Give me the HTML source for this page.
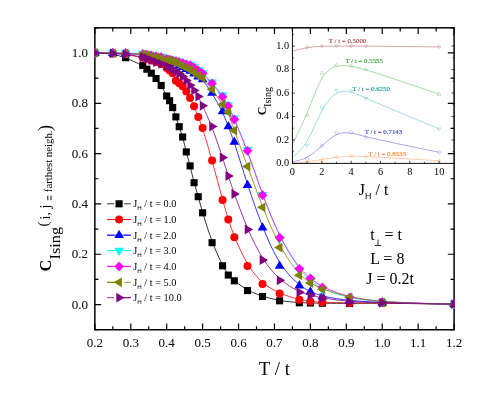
<!DOCTYPE html>
<html><head><meta charset="utf-8"><title>C_Ising vs T/t</title>
<style>html,body{margin:0;padding:0;background:#fff;}body{width:491px;height:407px;overflow:hidden;font-family:"Liberation Serif",serif;}svg{will-change:transform;}svg text{font-family:"Liberation Serif",serif;}</style>
</head><body>
<svg width="491" height="407" viewBox="0 0 491 407" style="display:block">
<rect width="491" height="407" fill="#fff"/>
<defs><clipPath id="cm"><rect x="94.1" y="27.05" width="360.75" height="303.45"/></clipPath></defs>
<rect x="94.85" y="27.8" width="359.25" height="301.95" fill="none" stroke="#000" stroke-width="1.48"/><path d="M94.85 329.75v-6.3M94.85 27.8v6.3M112.81 329.75v-3.6M112.81 27.8v3.6M130.78 329.75v-6.3M130.78 27.8v6.3M148.74 329.75v-3.6M148.74 27.8v3.6M166.70 329.75v-6.3M166.70 27.8v6.3M184.66 329.75v-3.6M184.66 27.8v3.6M202.62 329.75v-6.3M202.62 27.8v6.3M220.59 329.75v-3.6M220.59 27.8v3.6M238.55 329.75v-6.3M238.55 27.8v6.3M256.51 329.75v-3.6M256.51 27.8v3.6M274.47 329.75v-6.3M274.47 27.8v6.3M292.44 329.75v-3.6M292.44 27.8v3.6M310.40 329.75v-6.3M310.40 27.8v6.3M328.36 329.75v-3.6M328.36 27.8v3.6M346.33 329.75v-6.3M346.33 27.8v6.3M364.29 329.75v-3.6M364.29 27.8v3.6M382.25 329.75v-6.3M382.25 27.8v6.3M400.21 329.75v-3.6M400.21 27.8v3.6M418.18 329.75v-6.3M418.18 27.8v6.3M436.14 329.75v-3.6M436.14 27.8v3.6M454.10 329.75v-6.3M454.10 27.8v6.3M94.85 329.75h3.6M454.1 329.75h-3.6M94.85 304.59h6.3M454.1 304.59h-6.3M94.85 279.43h3.6M454.1 279.43h-3.6M94.85 254.26h6.3M454.1 254.26h-6.3M94.85 229.10h3.6M454.1 229.10h-3.6M94.85 203.94h6.3M454.1 203.94h-6.3M94.85 178.77h3.6M454.1 178.77h-3.6M94.85 153.61h6.3M454.1 153.61h-6.3M94.85 128.45h3.6M454.1 128.45h-3.6M94.85 103.29h6.3M454.1 103.29h-6.3M94.85 78.12h3.6M454.1 78.12h-3.6M94.85 52.96h6.3M454.1 52.96h-6.3M94.85 27.80h3.6M454.1 27.80h-3.6" stroke="#000" stroke-width="1.2" fill="none"/>
<g clip-path="url(#cm)">
<path d="M94.85 53.00C94.85 53.00 94.85 53.00 97.84 53.10C100.84 53.20 106.82 53.40 111.96 54.18C117.09 54.97 121.37 56.33 126.36 58.32C131.35 60.30 137.05 62.90 140.59 64.82C144.13 66.73 145.50 67.97 146.93 69.25C148.35 70.53 149.83 71.87 151.36 73.42C152.89 74.97 154.47 76.73 156.12 78.78C157.76 80.83 159.47 83.17 161.24 86.08C163.02 89.00 164.86 92.50 166.27 95.03C167.68 97.57 168.66 99.13 169.65 101.07C170.65 103.00 171.67 105.30 172.71 108.00C173.75 110.70 174.81 113.80 175.90 116.98C176.98 120.17 178.09 123.43 179.22 126.78C180.35 130.13 181.51 133.57 182.69 137.77C183.88 141.97 185.09 146.93 186.32 151.75C187.56 156.57 188.83 161.23 190.12 166.37C191.42 171.50 192.75 177.10 194.10 182.23C195.46 187.37 196.85 192.03 198.28 197.05C199.70 202.07 201.16 207.43 203.47 215.10C205.78 222.77 208.93 232.73 212.25 241.57C215.58 250.40 219.08 258.10 221.78 263.50C224.48 268.90 226.38 272.00 228.34 274.50C230.30 277.00 232.31 278.90 235.52 281.48C238.73 284.07 243.13 287.33 247.82 289.95C252.52 292.57 257.51 294.53 262.86 296.23C268.20 297.93 273.90 299.37 280.05 300.42C286.19 301.47 292.77 302.13 297.90 302.50C303.03 302.87 306.72 302.93 310.55 303.00C314.39 303.07 318.38 303.13 324.92 303.22C331.45 303.30 340.52 303.40 350.50 303.37C360.48 303.33 371.36 303.17 388.78 303.30C406.20 303.43 430.15 303.87 442.12 304.08C454.10 304.30 454.10 304.30 454.10 304.30" fill="none" stroke="#000000" stroke-width="0.8"/>
<rect x="91.30" y="49.45" width="7.10" height="7.10" fill="#000000"/>
<rect x="109.26" y="50.05" width="7.10" height="7.10" fill="#000000"/>
<rect x="122.09" y="54.15" width="7.10" height="7.10" fill="#000000"/>
<rect x="139.20" y="61.95" width="7.10" height="7.10" fill="#000000"/>
<rect x="143.33" y="65.65" width="7.10" height="7.10" fill="#000000"/>
<rect x="147.75" y="69.65" width="7.10" height="7.10" fill="#000000"/>
<rect x="152.51" y="74.95" width="7.10" height="7.10" fill="#000000"/>
<rect x="157.62" y="81.95" width="7.10" height="7.10" fill="#000000"/>
<rect x="163.15" y="92.45" width="7.10" height="7.10" fill="#000000"/>
<rect x="166.08" y="97.15" width="7.10" height="7.10" fill="#000000"/>
<rect x="169.14" y="104.05" width="7.10" height="7.10" fill="#000000"/>
<rect x="172.32" y="113.35" width="7.10" height="7.10" fill="#000000"/>
<rect x="175.65" y="123.15" width="7.10" height="7.10" fill="#000000"/>
<rect x="179.12" y="133.45" width="7.10" height="7.10" fill="#000000"/>
<rect x="182.75" y="148.35" width="7.10" height="7.10" fill="#000000"/>
<rect x="186.54" y="162.35" width="7.10" height="7.10" fill="#000000"/>
<rect x="190.52" y="179.15" width="7.10" height="7.10" fill="#000000"/>
<rect x="194.69" y="193.15" width="7.10" height="7.10" fill="#000000"/>
<rect x="199.07" y="209.25" width="7.10" height="7.10" fill="#000000"/>
<rect x="208.53" y="239.15" width="7.10" height="7.10" fill="#000000"/>
<rect x="219.03" y="262.25" width="7.10" height="7.10" fill="#000000"/>
<rect x="224.74" y="271.55" width="7.10" height="7.10" fill="#000000"/>
<rect x="230.77" y="277.25" width="7.10" height="7.10" fill="#000000"/>
<rect x="243.98" y="287.05" width="7.10" height="7.10" fill="#000000"/>
<rect x="258.95" y="292.95" width="7.10" height="7.10" fill="#000000"/>
<rect x="276.06" y="297.25" width="7.10" height="7.10" fill="#000000"/>
<rect x="295.80" y="299.25" width="7.10" height="7.10" fill="#000000"/>
<rect x="306.85" y="299.45" width="7.10" height="7.10" fill="#000000"/>
<rect x="318.82" y="299.65" width="7.10" height="7.10" fill="#000000"/>
<rect x="346.04" y="299.95" width="7.10" height="7.10" fill="#000000"/>
<rect x="378.70" y="299.45" width="7.10" height="7.10" fill="#000000"/>
<rect x="450.55" y="300.75" width="7.10" height="7.10" fill="#000000"/>
<path d="M94.85 53.00C94.85 53.00 94.85 53.00 97.84 53.05C100.84 53.10 106.82 53.20 111.96 53.40C117.09 53.60 121.37 53.90 126.36 54.65C131.35 55.40 137.05 56.60 140.59 57.40C144.13 58.20 145.50 58.60 146.93 59.03C148.35 59.47 149.83 59.93 151.36 60.43C152.89 60.93 154.47 61.47 156.12 62.07C157.76 62.67 159.47 63.33 161.24 64.33C163.02 65.33 164.86 66.67 166.27 67.75C167.68 68.83 168.66 69.67 169.65 70.53C170.65 71.40 171.67 72.30 172.71 74.02C173.75 75.73 174.81 78.27 175.90 79.93C176.98 81.60 178.09 82.40 179.22 83.30C180.35 84.20 181.51 85.20 182.69 86.57C183.88 87.93 185.09 89.67 186.32 91.63C187.56 93.60 188.83 95.80 190.12 98.28C191.42 100.77 192.75 103.53 194.10 106.68C195.46 109.83 196.85 113.37 198.28 116.98C199.70 120.60 201.16 124.30 203.47 131.57C205.78 138.83 208.93 149.67 212.25 161.67C215.58 173.67 219.08 186.83 221.78 196.67C224.48 206.50 226.38 213.00 228.34 219.22C230.30 225.43 232.31 231.37 235.52 239.12C238.73 246.87 243.13 256.43 247.82 264.22C252.52 272.00 257.51 278.00 262.86 282.60C268.20 287.20 273.90 290.40 280.05 293.03C286.19 295.67 292.77 297.73 297.90 299.05C303.03 300.37 306.72 300.93 310.55 301.35C314.39 301.77 318.38 302.03 324.92 302.28C331.45 302.53 340.52 302.77 350.50 302.85C360.48 302.93 371.36 302.87 388.78 303.08C406.20 303.30 430.15 303.80 442.12 304.05C454.10 304.30 454.10 304.30 454.10 304.30" fill="none" stroke="#ff0000" stroke-width="0.8"/>
<circle cx="94.85" cy="53.00" r="4" fill="#ff0000"/>
<circle cx="112.81" cy="53.30" r="4" fill="#ff0000"/>
<circle cx="125.64" cy="54.20" r="4" fill="#ff0000"/>
<circle cx="142.75" cy="57.80" r="4" fill="#ff0000"/>
<circle cx="146.88" cy="59.00" r="4" fill="#ff0000"/>
<circle cx="151.30" cy="60.40" r="4" fill="#ff0000"/>
<circle cx="156.06" cy="62.00" r="4" fill="#ff0000"/>
<circle cx="161.17" cy="64.00" r="4" fill="#ff0000"/>
<circle cx="166.70" cy="68.00" r="4" fill="#ff0000"/>
<circle cx="169.63" cy="70.50" r="4" fill="#ff0000"/>
<circle cx="172.69" cy="73.20" r="4" fill="#ff0000"/>
<circle cx="175.87" cy="80.80" r="4" fill="#ff0000"/>
<circle cx="179.20" cy="83.20" r="4" fill="#ff0000"/>
<circle cx="182.67" cy="86.20" r="4" fill="#ff0000"/>
<circle cx="186.30" cy="91.40" r="4" fill="#ff0000"/>
<circle cx="190.09" cy="98.00" r="4" fill="#ff0000"/>
<circle cx="194.07" cy="106.30" r="4" fill="#ff0000"/>
<circle cx="198.24" cy="116.90" r="4" fill="#ff0000"/>
<circle cx="202.62" cy="128.00" r="4" fill="#ff0000"/>
<circle cx="212.08" cy="160.50" r="4" fill="#ff0000"/>
<circle cx="222.58" cy="200.00" r="4" fill="#ff0000"/>
<circle cx="228.29" cy="219.50" r="4" fill="#ff0000"/>
<circle cx="234.32" cy="237.30" r="4" fill="#ff0000"/>
<circle cx="247.53" cy="266.00" r="4" fill="#ff0000"/>
<circle cx="262.50" cy="284.00" r="4" fill="#ff0000"/>
<circle cx="279.61" cy="293.60" r="4" fill="#ff0000"/>
<circle cx="299.35" cy="299.80" r="4" fill="#ff0000"/>
<circle cx="310.40" cy="301.50" r="4" fill="#ff0000"/>
<circle cx="322.38" cy="302.30" r="4" fill="#ff0000"/>
<circle cx="349.59" cy="303.00" r="4" fill="#ff0000"/>
<circle cx="382.25" cy="302.80" r="4" fill="#ff0000"/>
<circle cx="454.10" cy="304.30" r="4" fill="#ff0000"/>
<path d="M94.85 53.00C94.85 53.00 94.85 53.00 97.84 53.05C100.84 53.10 106.82 53.20 111.96 53.30C117.09 53.40 121.37 53.50 126.36 53.70C131.35 53.90 137.05 54.20 140.59 54.50C144.13 54.80 145.50 55.10 146.93 55.43C148.35 55.77 149.83 56.13 151.36 56.52C152.89 56.90 154.47 57.30 156.12 57.72C157.76 58.13 159.47 58.57 161.24 59.03C163.02 59.50 164.86 60.00 166.27 60.38C167.68 60.77 168.66 61.03 169.65 61.33C170.65 61.63 171.67 61.97 172.71 62.32C173.75 62.67 174.81 63.03 175.90 63.58C176.98 64.13 178.09 64.87 179.22 65.50C180.35 66.13 181.51 66.67 182.69 67.25C183.88 67.83 185.09 68.47 186.32 69.08C187.56 69.70 188.83 70.30 190.12 71.05C191.42 71.80 192.75 72.70 194.10 73.65C195.46 74.60 196.85 75.60 198.28 76.58C199.70 77.57 201.16 78.53 203.47 81.27C205.78 84.00 208.93 88.50 212.25 93.83C215.58 99.17 219.08 105.33 221.78 110.92C224.48 116.50 226.38 121.50 228.34 126.58C230.30 131.67 232.31 136.83 235.52 146.62C238.73 156.40 243.13 170.80 247.82 185.10C252.52 199.40 257.51 213.60 262.86 227.07C268.20 240.53 273.90 253.27 280.05 262.90C286.19 272.53 292.77 279.07 297.90 283.37C303.03 287.67 306.72 289.73 310.55 291.57C314.39 293.40 318.38 295.00 324.92 296.50C331.45 298.00 340.52 299.40 350.50 300.40C360.48 301.40 371.36 302.00 388.78 302.57C406.20 303.13 430.15 303.67 442.12 303.93C454.10 304.20 454.10 304.20 454.10 304.20" fill="none" stroke="#0000ff" stroke-width="0.8"/>
<path d="M94.85 47.50L99.75 55.80L89.95 55.80Z" fill="#0000ff"/>
<path d="M112.81 47.80L117.71 56.10L107.91 56.10Z" fill="#0000ff"/>
<path d="M125.64 48.10L130.54 56.40L120.74 56.40Z" fill="#0000ff"/>
<path d="M142.75 49.00L147.65 57.30L137.85 57.30Z" fill="#0000ff"/>
<path d="M146.88 49.90L151.78 58.20L141.98 58.20Z" fill="#0000ff"/>
<path d="M151.30 51.00L156.20 59.30L146.40 59.30Z" fill="#0000ff"/>
<path d="M156.06 52.20L160.96 60.50L151.16 60.50Z" fill="#0000ff"/>
<path d="M161.17 53.50L166.07 61.80L156.27 61.80Z" fill="#0000ff"/>
<path d="M166.70 55.00L171.60 63.30L161.80 63.30Z" fill="#0000ff"/>
<path d="M169.63 55.80L174.53 64.10L164.73 64.10Z" fill="#0000ff"/>
<path d="M172.69 56.80L177.59 65.10L167.79 65.10Z" fill="#0000ff"/>
<path d="M175.87 57.90L180.77 66.20L170.97 66.20Z" fill="#0000ff"/>
<path d="M179.20 60.10L184.10 68.40L174.30 68.40Z" fill="#0000ff"/>
<path d="M182.67 61.70L187.57 70.00L177.77 70.00Z" fill="#0000ff"/>
<path d="M186.30 63.60L191.20 71.90L181.40 71.90Z" fill="#0000ff"/>
<path d="M190.09 65.40L194.99 73.70L185.19 73.70Z" fill="#0000ff"/>
<path d="M194.07 68.10L198.97 76.40L189.17 76.40Z" fill="#0000ff"/>
<path d="M198.24 71.10L203.14 79.40L193.34 79.40Z" fill="#0000ff"/>
<path d="M202.62 74.00L207.53 82.30L197.72 82.30Z" fill="#0000ff"/>
<path d="M212.08 87.50L216.98 95.80L207.18 95.80Z" fill="#0000ff"/>
<path d="M222.58 106.00L227.48 114.30L217.68 114.30Z" fill="#0000ff"/>
<path d="M228.29 121.00L233.19 129.30L223.39 129.30Z" fill="#0000ff"/>
<path d="M234.32 136.50L239.22 144.80L229.42 144.80Z" fill="#0000ff"/>
<path d="M247.53 179.70L252.43 188.00L242.63 188.00Z" fill="#0000ff"/>
<path d="M262.50 222.30L267.40 230.60L257.60 230.60Z" fill="#0000ff"/>
<path d="M279.61 260.50L284.51 268.80L274.71 268.80Z" fill="#0000ff"/>
<path d="M299.35 280.10L304.25 288.40L294.45 288.40Z" fill="#0000ff"/>
<path d="M310.40 286.30L315.30 294.60L305.50 294.60Z" fill="#0000ff"/>
<path d="M322.38 291.10L327.27 299.40L317.48 299.40Z" fill="#0000ff"/>
<path d="M349.59 295.30L354.49 303.60L344.69 303.60Z" fill="#0000ff"/>
<path d="M382.25 297.10L387.15 305.40L377.35 305.40Z" fill="#0000ff"/>
<path d="M454.10 298.70L459.00 307.00L449.20 307.00Z" fill="#0000ff"/>
<path d="M94.85 52.30C94.85 52.30 94.85 52.30 97.84 52.33C100.84 52.37 106.82 52.43 111.96 52.50C117.09 52.57 121.37 52.63 126.36 52.82C131.35 53.00 137.05 53.30 140.59 53.53C144.13 53.77 145.50 53.93 146.93 54.13C148.35 54.33 149.83 54.57 151.36 54.82C152.89 55.07 154.47 55.33 156.12 55.62C157.76 55.90 159.47 56.20 161.24 56.65C163.02 57.10 164.86 57.70 166.27 58.12C167.68 58.53 168.66 58.77 169.65 59.00C170.65 59.23 171.67 59.47 172.71 59.72C173.75 59.97 174.81 60.23 175.90 60.53C176.98 60.83 178.09 61.17 179.22 61.50C180.35 61.83 181.51 62.17 182.69 62.53C183.88 62.90 185.09 63.30 186.32 63.63C187.56 63.97 188.83 64.23 190.12 64.78C191.42 65.33 192.75 66.17 194.10 67.08C195.46 68.00 196.85 69.00 198.28 69.97C199.70 70.93 201.16 71.87 203.47 73.93C205.78 76.00 208.93 79.20 212.25 82.95C215.58 86.70 219.08 91.00 221.78 94.77C224.48 98.53 226.38 101.77 228.34 105.60C230.30 109.43 232.31 113.87 235.52 121.33C238.73 128.80 243.13 139.30 247.82 152.03C252.52 164.77 257.51 179.73 262.86 194.47C268.20 209.20 273.90 223.70 280.05 236.25C286.19 248.80 292.77 259.40 297.90 266.37C303.03 273.33 306.72 276.67 310.55 279.92C314.39 283.17 318.38 286.33 324.92 289.42C331.45 292.50 340.52 295.50 350.50 297.65C360.48 299.80 371.36 301.10 388.78 302.05C406.20 303.00 430.15 303.60 442.12 303.90C454.10 304.20 454.10 304.20 454.10 304.20" fill="none" stroke="#00ffff" stroke-width="0.8"/>
<path d="M94.85 57.80L99.75 49.50L89.95 49.50Z" fill="#00ffff"/>
<path d="M112.81 58.00L117.71 49.70L107.91 49.70Z" fill="#00ffff"/>
<path d="M125.64 58.20L130.54 49.90L120.74 49.90Z" fill="#00ffff"/>
<path d="M142.75 59.10L147.65 50.80L137.85 50.80Z" fill="#00ffff"/>
<path d="M146.88 59.60L151.78 51.30L141.98 51.30Z" fill="#00ffff"/>
<path d="M151.30 60.30L156.20 52.00L146.40 52.00Z" fill="#00ffff"/>
<path d="M156.06 61.10L160.96 52.80L151.16 52.80Z" fill="#00ffff"/>
<path d="M161.17 62.00L166.07 53.70L156.27 53.70Z" fill="#00ffff"/>
<path d="M166.70 63.80L171.60 55.50L161.80 55.50Z" fill="#00ffff"/>
<path d="M169.63 64.50L174.53 56.20L164.73 56.20Z" fill="#00ffff"/>
<path d="M172.69 65.20L177.59 56.90L167.79 56.90Z" fill="#00ffff"/>
<path d="M175.87 66.00L180.77 57.70L170.97 57.70Z" fill="#00ffff"/>
<path d="M179.20 67.00L184.10 58.70L174.30 58.70Z" fill="#00ffff"/>
<path d="M182.67 68.00L187.57 59.70L177.77 59.70Z" fill="#00ffff"/>
<path d="M186.30 69.20L191.20 60.90L181.40 60.90Z" fill="#00ffff"/>
<path d="M190.09 70.00L194.99 61.70L185.19 61.70Z" fill="#00ffff"/>
<path d="M194.07 72.50L198.97 64.20L189.17 64.20Z" fill="#00ffff"/>
<path d="M198.24 75.50L203.14 67.20L193.34 67.20Z" fill="#00ffff"/>
<path d="M202.62 78.30L207.53 70.00L197.72 70.00Z" fill="#00ffff"/>
<path d="M212.08 87.90L216.98 79.60L207.18 79.60Z" fill="#00ffff"/>
<path d="M222.58 100.80L227.48 92.50L217.68 92.50Z" fill="#00ffff"/>
<path d="M228.29 110.50L233.19 102.20L223.39 102.20Z" fill="#00ffff"/>
<path d="M234.32 123.80L239.22 115.50L229.42 115.50Z" fill="#00ffff"/>
<path d="M247.53 155.30L252.43 147.00L242.63 147.00Z" fill="#00ffff"/>
<path d="M262.50 200.20L267.40 191.90L257.60 191.90Z" fill="#00ffff"/>
<path d="M279.61 243.70L284.51 235.40L274.71 235.40Z" fill="#00ffff"/>
<path d="M299.35 275.50L304.25 267.20L294.45 267.20Z" fill="#00ffff"/>
<path d="M310.40 285.50L315.30 277.20L305.50 277.20Z" fill="#00ffff"/>
<path d="M322.38 295.00L327.27 286.70L317.48 286.70Z" fill="#00ffff"/>
<path d="M349.59 304.00L354.49 295.70L344.69 295.70Z" fill="#00ffff"/>
<path d="M382.25 307.90L387.15 299.60L377.35 299.60Z" fill="#00ffff"/>
<path d="M454.10 309.70L459.00 301.40L449.20 301.40Z" fill="#00ffff"/>
<path d="M94.85 52.80C94.85 52.80 94.85 52.80 97.84 52.83C100.84 52.87 106.82 52.93 111.96 53.00C117.09 53.07 121.37 53.13 126.36 53.35C131.35 53.57 137.05 53.93 140.59 54.20C144.13 54.47 145.50 54.63 146.93 54.83C148.35 55.03 149.83 55.27 151.36 55.52C152.89 55.77 154.47 56.03 156.12 56.32C157.76 56.60 159.47 56.90 161.24 57.35C163.02 57.80 164.86 58.40 166.27 58.82C167.68 59.23 168.66 59.47 169.65 59.70C170.65 59.93 171.67 60.17 172.71 60.42C173.75 60.67 174.81 60.93 175.90 61.23C176.98 61.53 178.09 61.87 179.22 62.20C180.35 62.53 181.51 62.87 182.69 63.23C183.88 63.60 185.09 64.00 186.32 64.33C187.56 64.67 188.83 64.93 190.12 65.48C191.42 66.03 192.75 66.87 194.10 67.78C195.46 68.70 196.85 69.70 198.28 70.67C199.70 71.63 201.16 72.57 203.47 74.68C205.78 76.80 208.93 80.10 212.25 83.98C215.58 87.87 219.08 92.33 221.78 96.13C224.48 99.93 226.38 103.07 228.34 106.85C230.30 110.63 232.31 115.07 235.52 122.50C238.73 129.93 243.13 140.37 247.82 152.98C252.52 165.60 257.51 180.40 262.86 194.88C268.20 209.37 273.90 223.53 280.05 235.80C286.19 248.07 292.77 258.43 297.90 265.23C303.03 272.03 306.72 275.27 310.55 278.38C314.39 281.50 318.38 284.50 324.92 287.67C331.45 290.83 340.52 294.17 350.50 296.62C360.48 299.07 371.36 300.63 388.78 301.75C406.20 302.87 430.15 303.53 442.12 303.87C454.10 304.20 454.10 304.20 454.10 304.20" fill="none" stroke="#ff00ff" stroke-width="0.8"/>
<path d="M94.85 47.90L99.75 52.80L94.85 57.70L89.95 52.80Z" fill="#ff00ff"/>
<path d="M112.81 48.10L117.71 53.00L112.81 57.90L107.91 53.00Z" fill="#ff00ff"/>
<path d="M125.64 48.30L130.54 53.20L125.64 58.10L120.74 53.20Z" fill="#ff00ff"/>
<path d="M142.75 49.40L147.65 54.30L142.75 59.20L137.85 54.30Z" fill="#ff00ff"/>
<path d="M146.88 49.90L151.78 54.80L146.88 59.70L141.98 54.80Z" fill="#ff00ff"/>
<path d="M151.30 50.60L156.20 55.50L151.30 60.40L146.40 55.50Z" fill="#ff00ff"/>
<path d="M156.06 51.40L160.96 56.30L156.06 61.20L151.16 56.30Z" fill="#ff00ff"/>
<path d="M161.17 52.30L166.07 57.20L161.17 62.10L156.27 57.20Z" fill="#ff00ff"/>
<path d="M166.70 54.10L171.60 59.00L166.70 63.90L161.80 59.00Z" fill="#ff00ff"/>
<path d="M169.63 54.80L174.53 59.70L169.63 64.60L164.73 59.70Z" fill="#ff00ff"/>
<path d="M172.69 55.50L177.59 60.40L172.69 65.30L167.79 60.40Z" fill="#ff00ff"/>
<path d="M175.87 56.30L180.77 61.20L175.87 66.10L170.97 61.20Z" fill="#ff00ff"/>
<path d="M179.20 57.30L184.10 62.20L179.20 67.10L174.30 62.20Z" fill="#ff00ff"/>
<path d="M182.67 58.30L187.57 63.20L182.67 68.10L177.77 63.20Z" fill="#ff00ff"/>
<path d="M186.30 59.50L191.20 64.40L186.30 69.30L181.40 64.40Z" fill="#ff00ff"/>
<path d="M190.09 60.30L194.99 65.20L190.09 70.10L185.19 65.20Z" fill="#ff00ff"/>
<path d="M194.07 62.80L198.97 67.70L194.07 72.60L189.17 67.70Z" fill="#ff00ff"/>
<path d="M198.24 65.80L203.14 70.70L198.24 75.60L193.34 70.70Z" fill="#ff00ff"/>
<path d="M202.62 68.60L207.53 73.50L202.62 78.40L197.72 73.50Z" fill="#ff00ff"/>
<path d="M212.08 78.50L216.98 83.40L212.08 88.30L207.18 83.40Z" fill="#ff00ff"/>
<path d="M222.58 91.90L227.48 96.80L222.58 101.70L217.68 96.80Z" fill="#ff00ff"/>
<path d="M228.29 101.30L233.19 106.20L228.29 111.10L223.39 106.20Z" fill="#ff00ff"/>
<path d="M234.32 114.60L239.22 119.50L234.32 124.40L229.42 119.50Z" fill="#ff00ff"/>
<path d="M247.53 145.90L252.43 150.80L247.53 155.70L242.63 150.80Z" fill="#ff00ff"/>
<path d="M262.50 190.30L267.40 195.20L262.50 200.10L257.60 195.20Z" fill="#ff00ff"/>
<path d="M279.61 232.80L284.51 237.70L279.61 242.60L274.71 237.70Z" fill="#ff00ff"/>
<path d="M299.35 263.90L304.25 268.80L299.35 273.70L294.45 268.80Z" fill="#ff00ff"/>
<path d="M310.40 273.60L315.30 278.50L310.40 283.40L305.50 278.50Z" fill="#ff00ff"/>
<path d="M322.38 282.60L327.27 287.50L322.38 292.40L317.48 287.50Z" fill="#ff00ff"/>
<path d="M349.59 292.60L354.49 297.50L349.59 302.40L344.69 297.50Z" fill="#ff00ff"/>
<path d="M382.25 297.30L387.15 302.20L382.25 307.10L377.35 302.20Z" fill="#ff00ff"/>
<path d="M454.10 299.30L459.00 304.20L454.10 309.10L449.20 304.20Z" fill="#ff00ff"/>
<path d="M94.85 52.80C94.85 52.80 94.85 52.80 97.84 52.87C100.84 52.93 106.82 53.07 111.96 53.18C117.09 53.30 121.37 53.40 126.36 53.58C131.35 53.77 137.05 54.03 140.59 54.32C144.13 54.60 145.50 54.90 146.93 55.22C148.35 55.53 149.83 55.87 151.36 56.22C152.89 56.57 154.47 56.93 156.12 57.32C157.76 57.70 159.47 58.10 161.24 58.52C163.02 58.93 164.86 59.37 166.27 59.72C167.68 60.07 168.66 60.33 169.65 60.62C170.65 60.90 171.67 61.20 172.71 61.52C173.75 61.83 174.81 62.17 175.90 62.68C176.98 63.20 178.09 63.90 179.22 64.50C180.35 65.10 181.51 65.60 182.69 66.15C183.88 66.70 185.09 67.30 186.32 67.90C187.56 68.50 188.83 69.10 190.12 69.85C191.42 70.60 192.75 71.50 194.10 72.45C195.46 73.40 196.85 74.40 198.28 75.33C199.70 76.27 201.16 77.13 203.47 79.45C205.78 81.77 208.93 85.53 212.25 89.95C215.58 94.37 219.08 99.43 221.78 103.22C224.48 107.00 226.38 109.50 228.34 113.83C230.30 118.17 232.31 124.33 235.52 133.42C238.73 142.50 243.13 154.50 247.82 167.30C252.52 180.10 257.51 193.70 262.86 207.20C268.20 220.70 273.90 234.10 280.05 245.43C286.19 256.77 292.77 266.03 297.90 271.95C303.03 277.87 306.72 280.43 310.55 282.77C314.39 285.10 318.38 287.20 324.92 289.58C331.45 291.97 340.52 294.63 350.50 296.80C360.48 298.97 371.36 300.63 388.78 301.78C406.20 302.93 430.15 303.57 442.12 303.88C454.10 304.20 454.10 304.20 454.10 304.20" fill="none" stroke="#808000" stroke-width="0.8"/>
<path d="M89.35 52.80L97.65 47.90L97.65 57.70Z" fill="#808000"/>
<path d="M107.31 53.20L115.61 48.30L115.61 58.10Z" fill="#808000"/>
<path d="M120.14 53.50L128.44 48.60L128.44 58.40Z" fill="#808000"/>
<path d="M137.25 54.30L145.55 49.40L145.55 59.20Z" fill="#808000"/>
<path d="M141.38 55.20L149.68 50.30L149.68 60.10Z" fill="#808000"/>
<path d="M145.80 56.20L154.10 51.30L154.10 61.10Z" fill="#808000"/>
<path d="M150.56 57.30L158.86 52.40L158.86 62.20Z" fill="#808000"/>
<path d="M155.67 58.50L163.97 53.60L163.97 63.40Z" fill="#808000"/>
<path d="M161.20 59.80L169.50 54.90L169.50 64.70Z" fill="#808000"/>
<path d="M164.13 60.60L172.43 55.70L172.43 65.50Z" fill="#808000"/>
<path d="M167.19 61.50L175.49 56.60L175.49 66.40Z" fill="#808000"/>
<path d="M170.37 62.50L178.67 57.60L178.67 67.40Z" fill="#808000"/>
<path d="M173.70 64.60L182.00 59.70L182.00 69.50Z" fill="#808000"/>
<path d="M177.17 66.10L185.47 61.20L185.47 71.00Z" fill="#808000"/>
<path d="M180.80 67.90L189.10 63.00L189.10 72.80Z" fill="#808000"/>
<path d="M184.59 69.70L192.89 64.80L192.89 74.60Z" fill="#808000"/>
<path d="M188.57 72.40L196.87 67.50L196.87 77.30Z" fill="#808000"/>
<path d="M192.74 75.40L201.04 70.50L201.04 80.30Z" fill="#808000"/>
<path d="M197.12 78.00L205.43 73.10L205.43 82.90Z" fill="#808000"/>
<path d="M206.58 89.30L214.88 84.40L214.88 94.20Z" fill="#808000"/>
<path d="M217.08 104.50L225.38 99.60L225.38 109.40Z" fill="#808000"/>
<path d="M222.79 112.00L231.09 107.10L231.09 116.90Z" fill="#808000"/>
<path d="M228.82 130.50L237.12 125.60L237.12 135.40Z" fill="#808000"/>
<path d="M242.03 166.50L250.33 161.60L250.33 171.40Z" fill="#808000"/>
<path d="M257.00 207.30L265.30 202.40L265.30 212.20Z" fill="#808000"/>
<path d="M274.11 247.50L282.41 242.60L282.41 252.40Z" fill="#808000"/>
<path d="M293.85 275.30L302.15 270.40L302.15 280.20Z" fill="#808000"/>
<path d="M304.90 283.00L313.20 278.10L313.20 287.90Z" fill="#808000"/>
<path d="M316.88 289.30L325.18 284.40L325.18 294.20Z" fill="#808000"/>
<path d="M344.09 297.30L352.39 292.40L352.39 302.20Z" fill="#808000"/>
<path d="M376.75 302.30L385.05 297.40L385.05 307.20Z" fill="#808000"/>
<path d="M448.60 304.20L456.90 299.30L456.90 309.10Z" fill="#808000"/>
<path d="M94.85 52.80C94.85 52.80 94.85 52.80 97.84 52.90C100.84 53.00 106.82 53.20 111.96 53.42C117.09 53.63 121.37 53.87 126.36 54.47C131.35 55.07 137.05 56.03 140.59 56.77C144.13 57.50 145.50 58.00 146.93 58.53C148.35 59.07 149.83 59.63 151.36 60.22C152.89 60.80 154.47 61.40 156.12 62.00C157.76 62.60 159.47 63.20 161.24 63.90C163.02 64.60 164.86 65.40 166.27 66.03C167.68 66.67 168.66 67.13 169.65 67.63C170.65 68.13 171.67 68.67 172.71 69.27C173.75 69.87 174.81 70.53 175.90 71.25C176.98 71.97 178.09 72.73 179.22 73.63C180.35 74.53 181.51 75.57 182.69 76.75C183.88 77.93 185.09 79.27 186.32 80.72C187.56 82.17 188.83 83.73 190.12 85.37C191.42 87.00 192.75 88.70 194.10 90.57C195.46 92.43 196.85 94.47 198.28 97.03C199.70 99.60 201.16 102.70 203.47 107.70C205.78 112.70 208.93 119.60 212.25 128.22C215.58 136.83 219.08 147.17 221.78 155.42C224.48 163.67 226.38 169.83 228.34 175.92C230.30 182.00 232.31 188.00 235.52 196.92C238.73 205.83 243.13 217.67 247.82 228.67C252.52 239.67 257.51 249.83 262.86 258.30C268.20 266.77 273.90 273.53 280.05 278.92C286.19 284.30 292.77 288.30 297.90 290.80C303.03 293.30 306.72 294.30 310.55 295.25C314.39 296.20 318.38 297.10 324.92 298.18C331.45 299.27 340.52 300.53 350.50 301.30C360.48 302.07 371.36 302.33 388.78 302.73C406.20 303.13 430.15 303.67 442.12 303.93C454.10 304.20 454.10 304.20 454.10 304.20" fill="none" stroke="#800080" stroke-width="0.8"/>
<path d="M100.35 52.80L92.05 47.90L92.05 57.70Z" fill="#800080"/>
<path d="M118.31 53.40L110.01 48.50L110.01 58.30Z" fill="#800080"/>
<path d="M131.14 54.10L122.84 49.20L122.84 59.00Z" fill="#800080"/>
<path d="M148.25 57.00L139.95 52.10L139.95 61.90Z" fill="#800080"/>
<path d="M152.38 58.50L144.08 53.60L144.08 63.40Z" fill="#800080"/>
<path d="M156.80 60.20L148.50 55.30L148.50 65.10Z" fill="#800080"/>
<path d="M161.56 62.00L153.26 57.10L153.26 66.90Z" fill="#800080"/>
<path d="M166.67 63.80L158.37 58.90L158.37 68.70Z" fill="#800080"/>
<path d="M172.20 66.20L163.90 61.30L163.90 71.10Z" fill="#800080"/>
<path d="M175.13 67.60L166.83 62.70L166.83 72.50Z" fill="#800080"/>
<path d="M178.19 69.20L169.89 64.30L169.89 74.10Z" fill="#800080"/>
<path d="M181.37 71.20L173.07 66.30L173.07 76.10Z" fill="#800080"/>
<path d="M184.70 73.50L176.40 68.60L176.40 78.40Z" fill="#800080"/>
<path d="M188.17 76.60L179.87 71.70L179.87 81.50Z" fill="#800080"/>
<path d="M191.80 80.60L183.50 75.70L183.50 85.50Z" fill="#800080"/>
<path d="M195.59 85.30L187.29 80.40L187.29 90.20Z" fill="#800080"/>
<path d="M199.57 90.40L191.27 85.50L191.27 95.30Z" fill="#800080"/>
<path d="M203.74 96.50L195.44 91.60L195.44 101.40Z" fill="#800080"/>
<path d="M208.12 105.80L199.82 100.90L199.82 110.70Z" fill="#800080"/>
<path d="M217.58 126.50L209.28 121.60L209.28 131.40Z" fill="#800080"/>
<path d="M228.08 157.50L219.78 152.60L219.78 162.40Z" fill="#800080"/>
<path d="M233.79 176.00L225.49 171.10L225.49 180.90Z" fill="#800080"/>
<path d="M239.82 194.00L231.52 189.10L231.52 198.90Z" fill="#800080"/>
<path d="M253.03 229.50L244.73 224.60L244.73 234.40Z" fill="#800080"/>
<path d="M268.00 260.00L259.70 255.10L259.70 264.90Z" fill="#800080"/>
<path d="M285.11 280.30L276.81 275.40L276.81 285.20Z" fill="#800080"/>
<path d="M304.85 292.30L296.55 287.40L296.55 297.20Z" fill="#800080"/>
<path d="M315.90 295.30L307.60 290.40L307.60 300.20Z" fill="#800080"/>
<path d="M327.88 298.00L319.57 293.10L319.57 302.90Z" fill="#800080"/>
<path d="M355.09 301.80L346.79 296.90L346.79 306.70Z" fill="#800080"/>
<path d="M387.75 302.60L379.45 297.70L379.45 307.50Z" fill="#800080"/>
<path d="M459.60 304.20L451.30 299.30L451.30 309.10Z" fill="#800080"/>
</g>
<g font-family="Liberation Serif, serif" font-size="13" fill="#000">
<text x="94.85" y="346.7" text-anchor="middle">0.2</text>
<text x="130.78" y="346.7" text-anchor="middle">0.3</text>
<text x="166.70" y="346.7" text-anchor="middle">0.4</text>
<text x="202.62" y="346.7" text-anchor="middle">0.5</text>
<text x="238.55" y="346.7" text-anchor="middle">0.6</text>
<text x="274.47" y="346.7" text-anchor="middle">0.7</text>
<text x="310.40" y="346.7" text-anchor="middle">0.8</text>
<text x="346.33" y="346.7" text-anchor="middle">0.9</text>
<text x="382.25" y="346.7" text-anchor="middle">1.0</text>
<text x="418.18" y="346.7" text-anchor="middle">1.1</text>
<text x="454.10" y="346.7" text-anchor="middle">1.2</text>
<text x="88" y="308.69" text-anchor="end">0.0</text>
<text x="88" y="258.36" text-anchor="end">0.2</text>
<text x="88" y="208.04" text-anchor="end">0.4</text>
<text x="88" y="157.71" text-anchor="end">0.6</text>
<text x="88" y="107.39" text-anchor="end">0.8</text>
<text x="88" y="57.06" text-anchor="end">1.0</text>
</g>
<text x="274.5" y="374.9" text-anchor="middle" font-family="Liberation Serif, serif" font-size="19">T / t</text>
<g transform="translate(50.8,272) rotate(-90)" font-family="Liberation Serif, serif" fill="#000">
<text x="0.6" y="0" font-size="16.2" font-weight="bold">C</text>
<text x="12.5" y="9.5" font-size="15.5" textLength="32.6" lengthAdjust="spacingAndGlyphs">Ising</text>
<text x="45.5" y="-3" font-size="15">(</text>
<text x="52.5" y="-1.3" font-size="14">i, j</text>
<text x="79.8" y="1.2" font-size="10.8">farthest neigh.</text>
<text x="141" y="0" font-size="18">)</text>
</g>
<path d="M47.8 195.7V200.2M51.0 195.7V200.2" stroke="#000" stroke-width="0.95" fill="none"/>
<path d="M107 203.8H114.2M124 203.8H130.8" stroke="#000000" stroke-width="0.8"/>
<rect x="115.55" y="200.25" width="7.10" height="7.10" fill="#000000"/>
<text x="133.3" y="207.20" font-family="Liberation Serif, serif" font-size="10.3" fill="#000">J<tspan font-family="Liberation Sans, sans-serif" font-size="6.2" dy="3.2">H</tspan><tspan dy="-3.2"> / t = 0.0</tspan></text>
<path d="M107 219.5H114.2M124 219.5H130.8" stroke="#ff0000" stroke-width="0.8"/>
<path d="M107 219.5H130.8" stroke="#ff0000" stroke-width="0.8"/>
<circle cx="119.10" cy="219.50" r="4" fill="#ff0000"/>
<text x="133.3" y="222.90" font-family="Liberation Serif, serif" font-size="10.3" fill="#000">J<tspan font-family="Liberation Sans, sans-serif" font-size="6.2" dy="3.2">H</tspan><tspan dy="-3.2"> / t = 1.0</tspan></text>
<path d="M107 235.2H114.2M124 235.2H130.8" stroke="#0000ff" stroke-width="0.8"/>
<path d="M107 235.2H130.8" stroke="#0000ff" stroke-width="0.8"/>
<path d="M119.10 229.70L124.00 238.00L114.20 238.00Z" fill="#0000ff"/>
<text x="133.3" y="238.60" font-family="Liberation Serif, serif" font-size="10.3" fill="#000">J<tspan font-family="Liberation Sans, sans-serif" font-size="6.2" dy="3.2">H</tspan><tspan dy="-3.2"> / t = 2.0</tspan></text>
<path d="M107 250.6H114.2M124 250.6H130.8" stroke="#00ffff" stroke-width="0.8"/>
<path d="M107 250.6H130.8" stroke="#00ffff" stroke-width="0.8"/>
<path d="M119.10 256.10L124.00 247.80L114.20 247.80Z" fill="#00ffff"/>
<text x="133.3" y="254.00" font-family="Liberation Serif, serif" font-size="10.3" fill="#000">J<tspan font-family="Liberation Sans, sans-serif" font-size="6.2" dy="3.2">H</tspan><tspan dy="-3.2"> / t = 3.0</tspan></text>
<path d="M107 266.4H114.2M124 266.4H130.8" stroke="#ff00ff" stroke-width="0.8"/>
<path d="M107 266.4H130.8" stroke="#ff00ff" stroke-width="0.8"/>
<path d="M119.10 261.50L124.00 266.40L119.10 271.30L114.20 266.40Z" fill="#ff00ff"/>
<text x="133.3" y="269.80" font-family="Liberation Serif, serif" font-size="10.3" fill="#000">J<tspan font-family="Liberation Sans, sans-serif" font-size="6.2" dy="3.2">H</tspan><tspan dy="-3.2"> / t = 4.0</tspan></text>
<path d="M107 282.3H114.2M124 282.3H130.8" stroke="#808000" stroke-width="0.8"/>
<path d="M107 282.3H116" stroke="#808000" stroke-width="0.9"/>
<path d="M113.60 282.30L121.90 277.40L121.90 287.20Z" fill="#808000"/>
<text x="133.3" y="285.70" font-family="Liberation Serif, serif" font-size="10.3" fill="#000">J<tspan font-family="Liberation Sans, sans-serif" font-size="6.2" dy="3.2">H</tspan><tspan dy="-3.2"> / t = 5.0</tspan></text>
<path d="M107 297.7H114.2M124 297.7H130.8" stroke="#800080" stroke-width="0.8"/>
<path d="M122 297.7H130.8" stroke="#800080" stroke-width="0.9"/>
<path d="M124.60 297.70L116.30 292.80L116.30 302.60Z" fill="#800080"/>
<text x="133.3" y="301.10" font-family="Liberation Serif, serif" font-size="10.3" fill="#000">J<tspan font-family="Liberation Sans, sans-serif" font-size="6.2" dy="3.2">H</tspan><tspan dy="-3.2"> / t = 10.0</tspan></text>
<g font-family="Liberation Serif, serif" font-size="16" fill="#000">
<text x="370.2" y="240.1">t</text><path d="M374.8 245.5H381.2M378 245.5V239.6" stroke="#000" stroke-width="0.8" fill="none"/><text x="384.5" y="240.1">= t</text>
<text x="370.2" y="264.1">L = 8</text>
<text x="366.3" y="284.2">J = 0.2t</text>
</g>
<defs><clipPath id="ci"><rect x="292.45" y="27.8" width="161.65000000000003" height="135.6"/></clipPath></defs>
<g clip-path="url(#ci)">
<path d="M292.45 51.14C292.45 51.14 292.45 51.14 294.89 50.50C297.34 49.85 302.23 48.56 307.12 47.72C312.01 46.88 316.90 46.49 321.79 46.30C326.68 46.10 331.57 46.10 336.46 46.10C341.35 46.10 346.24 46.10 351.13 46.10C356.02 46.10 360.91 46.10 375.58 46.24C390.25 46.37 414.70 46.65 426.92 46.78C439.15 46.92 439.15 46.92 439.15 46.92" fill="none" stroke="#c07878" stroke-width="0.65"/>
<circle cx="307.12" cy="47.27" r="1.3" fill="none" stroke="#c07878" stroke-width="0.45"/>
<circle cx="321.79" cy="46.10" r="1.3" fill="none" stroke="#c07878" stroke-width="0.45"/>
<circle cx="336.46" cy="46.10" r="1.3" fill="none" stroke="#c07878" stroke-width="0.45"/>
<circle cx="351.13" cy="46.10" r="1.3" fill="none" stroke="#c07878" stroke-width="0.45"/>
<circle cx="365.80" cy="46.10" r="1.3" fill="none" stroke="#c07878" stroke-width="0.45"/>
<circle cx="439.15" cy="46.92" r="1.3" fill="none" stroke="#c07878" stroke-width="0.45"/>
<path d="M292.45 144.28C292.45 144.28 292.45 144.28 294.89 139.41C297.34 134.54 302.23 124.81 307.12 112.92C312.01 101.04 316.90 87.00 321.79 78.67C326.68 70.34 331.57 67.72 336.46 66.53C341.35 65.34 346.24 65.57 351.13 66.28C356.02 66.98 360.91 68.15 375.58 72.88C390.25 77.61 414.70 85.90 426.92 90.05C439.15 94.19 439.15 94.19 439.15 94.19" fill="none" stroke="#78c878" stroke-width="0.65"/>
<path d="M307.12 113.07L308.92 116.17L305.32 116.17Z" fill="none" stroke="#78c878" stroke-width="0.45"/>
<path d="M321.79 70.96L323.59 74.06L319.99 74.06Z" fill="none" stroke="#78c878" stroke-width="0.45"/>
<path d="M336.46 63.10L338.26 66.20L334.66 66.20Z" fill="none" stroke="#78c878" stroke-width="0.45"/>
<path d="M351.13 63.81L352.93 66.91L349.33 66.91Z" fill="none" stroke="#78c878" stroke-width="0.45"/>
<path d="M365.80 67.33L367.60 70.43L364.00 70.43Z" fill="none" stroke="#78c878" stroke-width="0.45"/>
<path d="M439.15 92.19L440.95 95.29L437.35 95.29Z" fill="none" stroke="#78c878" stroke-width="0.45"/>
<path d="M292.45 157.12C292.45 157.12 292.45 157.12 294.89 155.18C297.34 153.23 302.23 149.34 307.12 141.10C312.01 132.86 316.90 120.27 321.79 111.12C326.68 101.97 331.57 96.27 336.46 93.49C341.35 90.71 346.24 90.87 351.13 92.18C356.02 93.49 360.91 95.95 375.58 102.27C390.25 108.58 414.70 118.75 426.92 123.83C439.15 128.91 439.15 128.91 439.15 128.91" fill="none" stroke="#70c8c8" stroke-width="0.65"/>
<path d="M307.12 147.45L308.92 144.35L305.32 144.35Z" fill="none" stroke="#70c8c8" stroke-width="0.45"/>
<path d="M321.79 109.68L323.59 106.58L319.99 106.58Z" fill="none" stroke="#70c8c8" stroke-width="0.45"/>
<path d="M336.46 92.56L338.26 89.46L334.66 89.46Z" fill="none" stroke="#70c8c8" stroke-width="0.45"/>
<path d="M351.13 93.03L352.93 89.93L349.33 89.93Z" fill="none" stroke="#70c8c8" stroke-width="0.45"/>
<path d="M365.80 100.42L367.60 97.32L364.00 97.32Z" fill="none" stroke="#70c8c8" stroke-width="0.45"/>
<path d="M439.15 130.91L440.95 127.81L437.35 127.81Z" fill="none" stroke="#70c8c8" stroke-width="0.45"/>
<path d="M292.45 161.71C292.45 161.71 292.45 161.71 294.89 161.25C297.34 160.79 302.23 159.87 307.12 157.23C312.01 154.60 316.90 150.26 321.79 145.86C326.68 141.46 331.57 137.01 336.46 134.74C341.35 132.47 346.24 132.39 351.13 133.18C356.02 133.96 360.91 135.60 375.58 138.92C390.25 142.25 414.70 147.25 426.92 149.75C439.15 152.26 439.15 152.26 439.15 152.26" fill="none" stroke="#7878d8" stroke-width="0.65"/>
<path d="M307.12 157.04L309.02 158.94L307.12 160.84L305.22 158.94Z" fill="none" stroke="#7878d8" stroke-width="0.45"/>
<path d="M321.79 144.02L323.69 145.92L321.79 147.82L319.89 145.92Z" fill="none" stroke="#7878d8" stroke-width="0.45"/>
<path d="M336.46 130.65L338.36 132.55L336.46 134.45L334.56 132.55Z" fill="none" stroke="#7878d8" stroke-width="0.45"/>
<path d="M351.13 130.42L353.03 132.32L351.13 134.22L349.23 132.32Z" fill="none" stroke="#7878d8" stroke-width="0.45"/>
<path d="M365.80 135.34L367.70 137.24L365.80 139.14L363.90 137.24Z" fill="none" stroke="#7878d8" stroke-width="0.45"/>
<path d="M439.15 150.36L441.05 152.26L439.15 154.16L437.25 152.26Z" fill="none" stroke="#7878d8" stroke-width="0.45"/>
<path d="M292.45 163.17C292.45 163.17 292.45 163.17 294.89 162.95C297.34 162.74 302.23 162.31 307.12 161.72C312.01 161.13 316.90 160.39 321.79 159.57C326.68 158.75 331.57 157.85 336.46 157.24C341.35 156.64 346.24 156.32 351.13 156.24C356.02 156.17 360.91 156.32 375.58 157.10C390.25 157.89 414.70 159.29 426.92 160.00C439.15 160.70 439.15 160.70 439.15 160.70" fill="none" stroke="#ffb078" stroke-width="0.65"/>
<path d="M305.12 161.88L308.22 160.08L308.22 163.68Z" fill="none" stroke="#ffb078" stroke-width="0.45"/>
<path d="M319.79 159.65L322.89 157.85L322.89 161.45Z" fill="none" stroke="#ffb078" stroke-width="0.45"/>
<path d="M334.46 156.95L337.56 155.15L337.56 158.75Z" fill="none" stroke="#ffb078" stroke-width="0.45"/>
<path d="M349.13 156.01L352.23 154.21L352.23 157.81Z" fill="none" stroke="#ffb078" stroke-width="0.45"/>
<path d="M363.80 156.48L366.90 154.68L366.90 158.28Z" fill="none" stroke="#ffb078" stroke-width="0.45"/>
<path d="M437.15 160.70L440.25 158.90L440.25 162.50Z" fill="none" stroke="#ffb078" stroke-width="0.45"/>
</g>
<text x="328.8" y="43.0" font-family="Liberation Serif, serif" font-size="6.6" fill="#a83838" stroke="#a83838" stroke-width="0.12" textLength="37.5" lengthAdjust="spacingAndGlyphs">T / t = 0.5000</text>
<text x="345.5" y="62.7" font-family="Liberation Serif, serif" font-size="6.6" fill="#20a020" stroke="#20a020" stroke-width="0.12" textLength="37.5" lengthAdjust="spacingAndGlyphs">T / t = 0.5555</text>
<text x="352.4" y="91.4" font-family="Liberation Serif, serif" font-size="6.6" fill="#109898" stroke="#109898" stroke-width="0.12" textLength="37.5" lengthAdjust="spacingAndGlyphs">T / t = 0.6250</text>
<text x="364.7" y="133.7" font-family="Liberation Serif, serif" font-size="6.6" fill="#3838c0" stroke="#3838c0" stroke-width="0.12" textLength="37.5" lengthAdjust="spacingAndGlyphs">T / t = 0.7143</text>
<text x="368.4" y="155.5" font-family="Liberation Serif, serif" font-size="6.6" fill="#ff8020" stroke="#ff8020" stroke-width="0.12" textLength="37.5" lengthAdjust="spacingAndGlyphs">T / t = 0.8333</text>
<path d="M292.45 27.8V163.4H454.1" fill="none" stroke="#000" stroke-width="0.95"/>
<path d="M292.45 163.4v-2.6M307.12 163.4v-1.6M321.79 163.4v-2.6M336.46 163.4v-1.6M351.13 163.4v-2.6M365.80 163.4v-1.6M380.47 163.4v-2.6M395.14 163.4v-1.6M409.81 163.4v-2.6M424.48 163.4v-1.6M439.15 163.4v-2.6M292.45 163.40h2.6M454.1 163.40h-2.6M292.45 151.67h1.4M454.1 151.67h-1.4M292.45 139.94h2.6M454.1 139.94h-2.6M292.45 128.21h1.4M454.1 128.21h-1.4M292.45 116.48h2.6M454.1 116.48h-2.6M292.45 104.75h1.4M454.1 104.75h-1.4M292.45 93.02h2.6M454.1 93.02h-2.6M292.45 81.29h1.4M454.1 81.29h-1.4M292.45 69.56h2.6M454.1 69.56h-2.6M292.45 57.83h1.4M454.1 57.83h-1.4M292.45 46.10h2.6M454.1 46.10h-2.6M292.45 34.37h1.4M454.1 34.37h-1.4" stroke="#000" stroke-width="0.7" fill="none"/>
<g font-family="Liberation Serif, serif" font-size="10.3" fill="#000">
<text x="292.45" y="174.9" text-anchor="middle">0</text>
<text x="321.79" y="174.9" text-anchor="middle">2</text>
<text x="351.13" y="174.9" text-anchor="middle">4</text>
<text x="380.47" y="174.9" text-anchor="middle">6</text>
<text x="409.81" y="174.9" text-anchor="middle">8</text>
<text x="439.15" y="174.9" text-anchor="middle">10</text>
<text x="289.1" y="166.30" text-anchor="end">0.0</text>
<text x="289.1" y="142.84" text-anchor="end">0.2</text>
<text x="289.1" y="119.38" text-anchor="end">0.4</text>
<text x="289.1" y="95.92" text-anchor="end">0.6</text>
<text x="289.1" y="72.46" text-anchor="end">0.8</text>
<text x="289.1" y="49.00" text-anchor="end">1.0</text>
</g>
<text x="358.8" y="195.3" font-family="Liberation Serif, serif" font-size="16">J<tspan font-family="Liberation Sans, sans-serif" font-size="8.8" dy="4">H</tspan></text><text x="375.6" y="195.3" font-family="Liberation Serif, serif" font-size="16">/ t</text>
<g transform="translate(265.5,115.3) rotate(-90)" font-family="Liberation Serif, serif" fill="#000">
<text x="0" y="0" font-size="12" font-weight="bold">C</text>
<text x="8.4" y="5.1" font-size="10">Ising</text>
</g>
</svg>
</body></html>
